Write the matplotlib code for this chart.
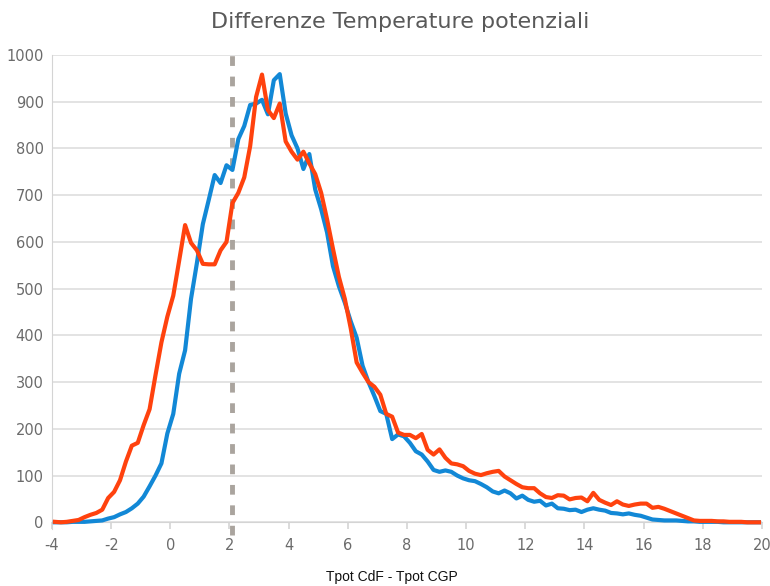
import numpy as np
import matplotlib
matplotlib.use('Agg')
import matplotlib.pyplot as plt

plt.rcParams['axes.unicode_minus'] = False

# ========== data ==========

# bin centres, 0.2 wide, from -3.9 to 19.9
x_bins = np.round(np.arange(-3.9, 19.95, 0.2), 1)

blue_counts = [
    0, 0, 0, 1, 1, 1, 2, 3, 4, 8,
    11, 17, 22, 30, 40, 55, 77, 100, 126, 190,
    232, 318, 368, 478, 555, 638, 690, 743, 726, 764,
    754, 820, 848, 893, 896, 904, 873, 946, 959, 875,
    828, 800, 756, 788, 712, 670, 620, 548, 505, 470,
    430, 395, 335, 300, 270, 238, 232, 178, 188, 184,
    170, 152, 145, 130, 112, 108, 111, 108, 100, 94,
    90, 88, 82, 75, 66, 62, 68, 62, 51, 57,
    48, 44, 46, 36, 40, 30, 29, 26, 27, 22,
    27, 30, 27, 25, 20, 19, 17, 19, 16, 14,
    10, 6, 5, 4, 4, 4, 3, 2, 2, 1,
    1, 1, 1, 0, 0, 0, 0, 0, 0, 0,
]

red_counts = [
    1, 0, 1, 3, 5, 11, 16, 20, 27, 52,
    65, 90, 130, 164, 170, 208, 242, 315, 385, 440,
    485, 560, 636, 598, 582, 553, 552, 552, 582, 600,
    683, 705, 738, 805, 910, 958, 882, 865, 896, 815,
    793, 776, 793, 768, 745, 705, 648, 585, 525, 478,
    415, 342, 320, 300, 290, 273, 232, 226, 192, 187,
    187, 180, 189, 155, 145, 156, 138, 126, 124, 120,
    110, 104, 101, 105, 108, 110, 98, 90, 82, 75,
    73, 73, 62, 54, 52, 58, 57, 49, 52, 53,
    45, 63, 48, 42, 37, 45, 38, 35, 38, 40,
    40, 31, 33, 29, 24, 19, 14, 9, 4, 3,
    3, 3, 2, 2, 1, 1, 1, 0, 0, 0,
]

mean_diff = 2.1
x_ticks = list(range(-4, 21, 2))
y_ticks = list(range(0, 1001, 100))

# ========== plot ==========

fig = plt.figure(figsize=(7.7, 5.86), dpi=100)
ax = fig.add_axes([0.0675, 0.1087, 0.922, 0.7975])

ax.plot(x_bins, blue_counts, color='#1288d6', linewidth=3, clip_on=False, zorder=3)
ax.plot(x_bins, red_counts, color='#ff420e', linewidth=3, clip_on=False, zorder=4)
ax.vlines(mean_diff, -28, 1000, colors='#aaa49e', linestyles=(0, (2, 2.2)),
          linewidth=3.5, clip_on=False, zorder=2)

ax.set_xlim(-4, 20)
ax.set_ylim(0, 1000)
ax.set_xticks(x_ticks)
ax.set_yticks(y_ticks)
ax.yaxis.grid(True, color='#e0e0e0', linewidth=1.3)
ax.set_axisbelow(True)

for s in ['top', 'right']:
    ax.spines[s].set_visible(False)
ax.spines['left'].set_color('#d4d4d4')
ax.spines['bottom'].set_color('#d4d4d4')
ax.spines['left'].set_bounds(-15, 1000)
ax.tick_params(axis='x', colors='#d4d4d4', length=5, width=1.2, labelcolor='#6b6b6b',
               labelsize=10.5, pad=6)
ax.tick_params(axis='y', length=0, labelcolor='#6b6b6b', labelsize=10.5, pad=6)

fig.text(400 / 770, 0.962, 'Differenze Temperature potenziali', ha='center', va='center',
         fontsize=16, color='#595959')
fig.text(392 / 770, 1 - 577 / 586, 'Tpot CdF - Tpot CGP', ha='center', va='center',
         fontsize=10, color='#111111', family=['Liberation Sans Narrow', 'Liberation Sans'])

fig.savefig('out.png', dpi=100)
